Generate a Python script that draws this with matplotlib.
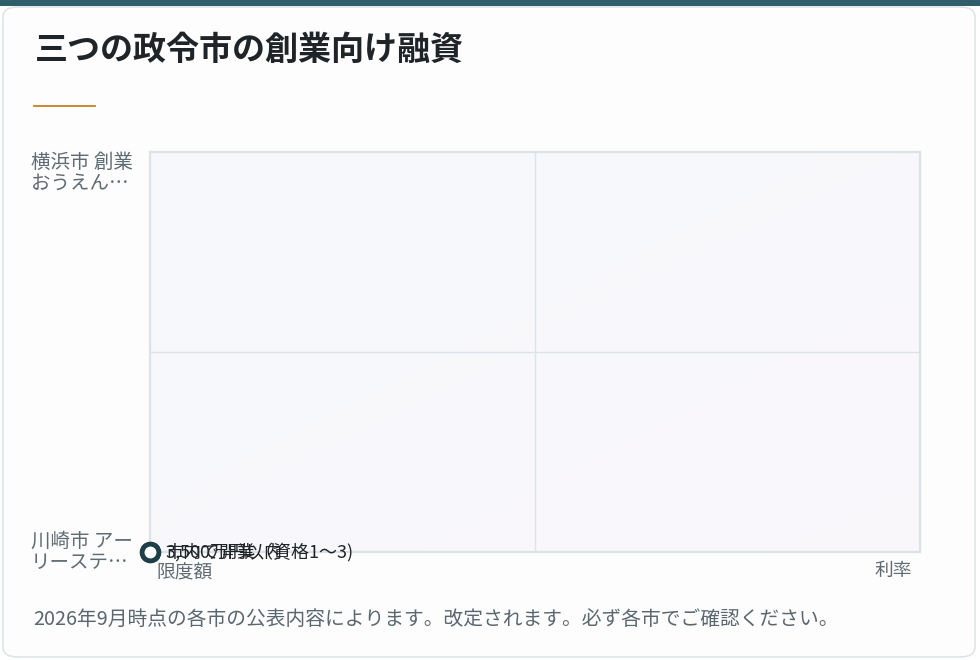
import numpy as np
import matplotlib.pyplot as plt
from matplotlib.patches import FancyBboxPatch, Rectangle

plt.rcParams['font.family'] = ['Noto Sans CJK JP', 'DejaVu Sans']

# data (the values on the chart all collapse to the origin)
cities = ["川崎市 アー\nリーステ…", "横浜市 創業\nおうえん…"]
city_pos = [0, 1]
point_x = [0, 0]
point_y = [0, 0]
point_labels = ["3,500万円以内", "市内で開業（資格1～3)"]
x_left_label = "限度額"
x_right_label = "利率"
title = "三つの政令市の創業向け融資"
note = "2026年9月時点の各市の公表内容によります。改定されます。必ず各市でご確認ください。"

W, H = 980, 660
fig = plt.figure(figsize=(W / 100, H / 100), dpi=100)
fig.patch.set_facecolor("white")

# card
card = FancyBboxPatch((3 / W, 3 / H), 972 / W, 650 / H,
                      boxstyle="round,pad=0,rounding_size=0.015",
                      transform=fig.transFigure, facecolor="#fcfdfc",
                      edgecolor="#dfe4e7", linewidth=1.2, zorder=-10)
fig.patches.append(card)
fig.patches.append(Rectangle((0, 1 - 6 / H), 1, 6 / H, transform=fig.transFigure,
                             facecolor="#2e5d6b", edgecolor="none", zorder=-9))

fig.text(35 / W, 1 - 50 / H, title, fontsize=23.8, fontweight="bold",
         color="#1f2428", va="center", ha="left")
fig.add_artist(plt.Line2D([34 / W, 95 / W], [1 - 106 / H, 1 - 106 / H],
                          color="#c8801f", linewidth=1.3))

ax = fig.add_axes([150 / W, 108 / H, 770 / W, 400 / H])
ax.set_xlim(0, 1)
ax.set_ylim(0, 1)

# subtle diagonal gradient background
gx, gy = np.meshgrid(np.linspace(0, 1, 200), np.linspace(0, 1, 200))
t = (gx + gy) / 2
c0 = np.array([0.965, 0.975, 0.988])
c1 = np.array([0.982, 0.970, 0.984])
img = c0 + (c1 - c0) * t[..., None]
ax.imshow(img, extent=(0, 1, 0, 1), origin="upper", aspect="auto", zorder=0)

ax.axvline(0.5, color="#dde3e6", linewidth=1, zorder=1)
ax.axhline(0.5, color="#dde3e6", linewidth=1, zorder=1)
for s in ax.spines.values():
    s.set_color("#dce2e5")
    s.set_linewidth(1.6)

ax.set_xticks([])
ax.set_yticks(city_pos)
ax.set_yticklabels(cities, fontsize=14, color="#5f6b73", linespacing=1.0, ha="left")
ax.tick_params(axis="y", length=0, pad=86)
labels = ax.get_yticklabels()
labels[1].set_va("top")
labels[0].set_va("center")
labels[1].set_y(0.985)

ax.text(0.008, -0.025, x_left_label, transform=ax.transAxes, fontsize=13.5,
        color="#5f6b73", ha="left", va="top")
ax.text(0.99, -0.02, x_right_label, transform=ax.transAxes, fontsize=13.5,
        color="#5f6b73", ha="right", va="top")

ax.plot(point_x, point_y, "o", markersize=12, markerfacecolor="white",
        markeredgecolor="#1f3f48", markeredgewidth=3.4, clip_on=False, zorder=5)
for x, y, lab in zip(point_x, point_y, point_labels):
    ax.annotate(lab, (x, y), xytext=(11, 0), textcoords="offset points",
                fontsize=13, color="#1f2428", va="center", ha="left",
                annotation_clip=False, zorder=6)

fig.text(33 / W, 1 - 619 / H, note, fontsize=14.2, color="#5a6670",
         ha="left", va="center")

fig.savefig("out.png", dpi=100)
